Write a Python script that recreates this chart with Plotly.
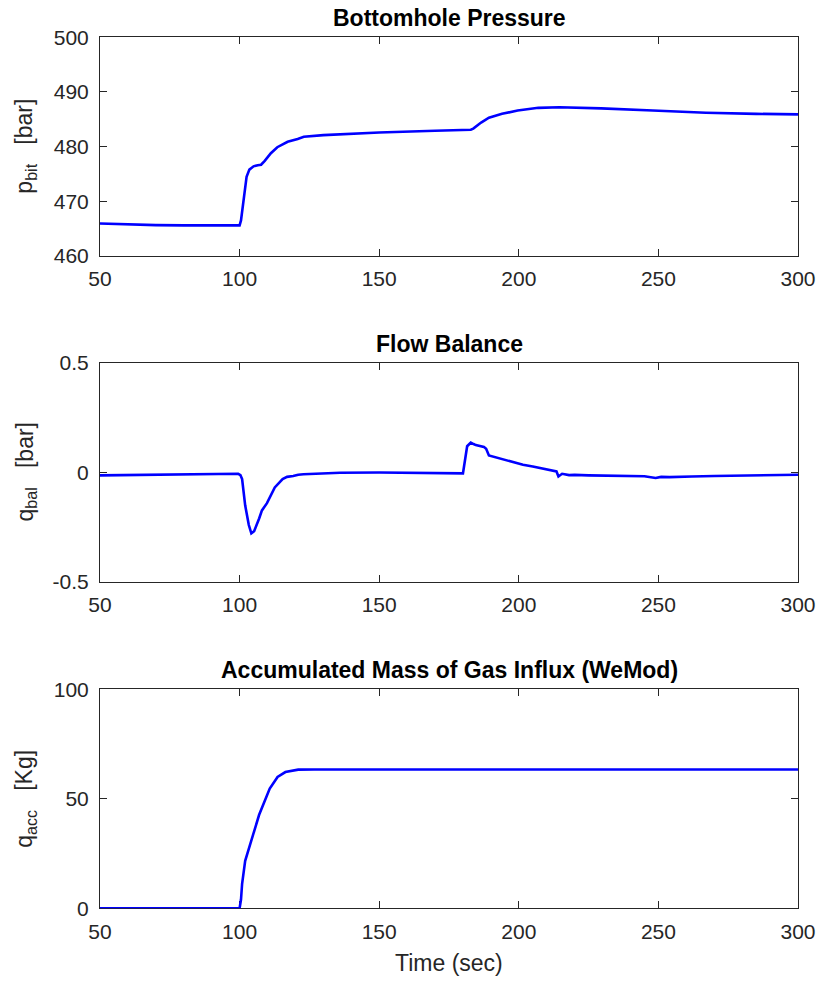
import plotly.graph_objects as go

# ---- Data ----
t_p = [50, 60, 70, 80, 90, 100, 100.5, 101.5, 102.5, 103.5, 105, 106.5, 107.7, 109, 111.2,
       113.5, 117.2, 120.8, 123, 130, 150, 170, 182.8, 183.7, 185, 186.5, 189.3, 194, 199.6,
       207, 214.5, 229.5, 248, 267, 285, 300]
p_bit = [465.95, 465.75, 465.65, 465.6, 465.6, 465.6, 466.5, 470.5, 474.5, 475.8, 476.4, 476.6, 476.7, 477.4, 478.8,
         479.9, 480.9, 481.4, 481.8, 482.1, 482.6, 482.9, 483.1, 483.3, 483.8, 484.4, 485.3, 486.0, 486.6,
         487.1, 487.2, 487.0, 486.6, 486.2, 486.0, 485.9]

t_q = [50, 60, 70, 80, 90, 99.5, 100.3, 100.9, 102, 103.3, 104.2, 105.2, 107, 108, 109.8,
       112.6, 115.4, 117, 119.2, 121, 122.9, 130, 136, 150, 165, 179, 180, 181.5, 182.8,
       183.8, 184.6, 187.5, 188.3, 189.3, 192, 194, 198, 201.5, 205, 209, 212.7, 213.5, 214.2,
       215.5, 218, 220, 225, 230, 238.8, 242, 245, 249, 251, 254, 257.5, 262, 270, 276, 285, 300]
q_bal = [-0.013, -0.011, -0.009, -0.008, -0.007, -0.006, -0.012, -0.03, -0.15, -0.24, -0.278, -0.268, -0.21, -0.173, -0.14,
         -0.068, -0.03, -0.02, -0.016, -0.01, -0.008, -0.004, -0.001, 0.0, -0.002, -0.004, -0.004, 0.12, 0.137,
         0.13, 0.125, 0.117, 0.108, 0.078, 0.068, 0.06, 0.045, 0.035, 0.027, 0.016, 0.006, 0.005, -0.018,
         -0.006, -0.012, -0.011, -0.013, -0.014, -0.016, -0.019, -0.017, -0.025, -0.02, -0.021, -0.019, -0.018, -0.016, -0.015, -0.013, -0.01]

t_m = [50, 70, 90, 100, 100.5, 100.9, 102, 104.2, 107, 110.8, 113.6, 116.4, 121, 126.7, 150, 200, 250, 300]
q_acc = [0, 0, 0, 0, 4, 11.2, 21.7, 30.7, 42.7, 54.7, 60.0, 62.2, 63.3, 63.4, 63.4, 63.4, 63.4, 63.4]

x_ticks = [50, 100, 150, 200, 250, 300]
titles = ["Bottomhole Pressure", "Flow Balance", "Accumulated Mass of Gas Influx (WeMod)"]
ylabels = ["p<sub>bit</sub>&nbsp;&nbsp;&nbsp;[bar]", "q<sub>bal</sub>&nbsp;&nbsp;&nbsp;[bar]", "q<sub>acc</sub>&nbsp;&nbsp;&nbsp;[Kg]"]
y_ticks = [[460, 470, 480, 490, 500], [-0.5, 0, 0.5], [0, 50, 100]]
y_ticktext = [["460", "470", "480", "490", "500"], ["-0.5", "0", "0.5"], ["0", "50", "100"]]
y_ranges = [[460, 500], [-0.5, 0.5], [0, 100]]

W, H = 820, 982
x_dom = [100 / W, 798 / W]
px_top = [37.3, 363, 689.3]
px_bot = [256, 582, 908.3]
y_doms = [[1 - b / H, 1 - t / H] for t, b in zip(px_top, px_bot)]

FONT = "Liberation Sans, Arial, Helvetica, sans-serif"
AX = "#262626"

fig = go.Figure()
series = [(t_p, p_bit), (t_q, q_bal), (t_m, q_acc)]
for i, (tx, vy) in enumerate(series):
    suf = "" if i == 0 else str(i + 1)
    fig.add_trace(go.Scatter(x=tx, y=vy, mode="lines", line=dict(color="#0000FF", width=2.6),
                             xaxis="x" + suf, yaxis="y" + suf, showlegend=False, cliponaxis=False))
    axcommon = dict(showline=True, linecolor=AX, linewidth=1, mirror="ticks", ticks="inside",
                    ticklen=7, tickwidth=1, tickcolor=AX, showgrid=False, zeroline=False,
                    automargin=False, layer="below traces",
                    tickfont=dict(family=FONT, size=21, color=AX))
    fig.layout["xaxis" + suf] = dict(domain=x_dom, range=[50, 300], tickvals=x_ticks,
                                     anchor="y" + suf, ticklabelstandoff=4, **axcommon)
    fig.layout["yaxis" + suf] = dict(domain=y_doms[i], range=y_ranges[i], tickvals=y_ticks[i],
                                     ticktext=y_ticktext[i], anchor="x" + suf,
                                     ticklabelstandoff=6, **axcommon)
    # subplot title
    fig.add_annotation(text="<b>" + titles[i] + "</b>", x=(x_dom[0] + x_dom[1]) / 2,
                       y=1 - (px_top[i] - 19) / H, xref="paper", yref="paper",
                       xanchor="center", yanchor="middle", showarrow=False,
                       font=dict(family=FONT, size=23, color="black"))
    # y label
    fig.add_annotation(text=ylabels[i], x=26 / W, y=1 - ((px_top[i] + px_bot[i]) / 2) / H,
                       xref="paper", yref="paper", xanchor="center", yanchor="middle",
                       textangle=-90, showarrow=False,
                       font=dict(family=FONT, size=23, color=AX))

fig.add_annotation(text="Time (sec)", x=(x_dom[0] + x_dom[1]) / 2, y=1 - 963 / H,
                   xref="paper", yref="paper", xanchor="center", yanchor="middle",
                   showarrow=False, font=dict(family=FONT, size=23, color=AX))

fig.update_layout(width=W, height=H, margin=dict(l=0, r=0, t=0, b=0, autoexpand=False),
                  template="none",
                  paper_bgcolor="white", plot_bgcolor="white", showlegend=False)

fig.write_html("out.html")
